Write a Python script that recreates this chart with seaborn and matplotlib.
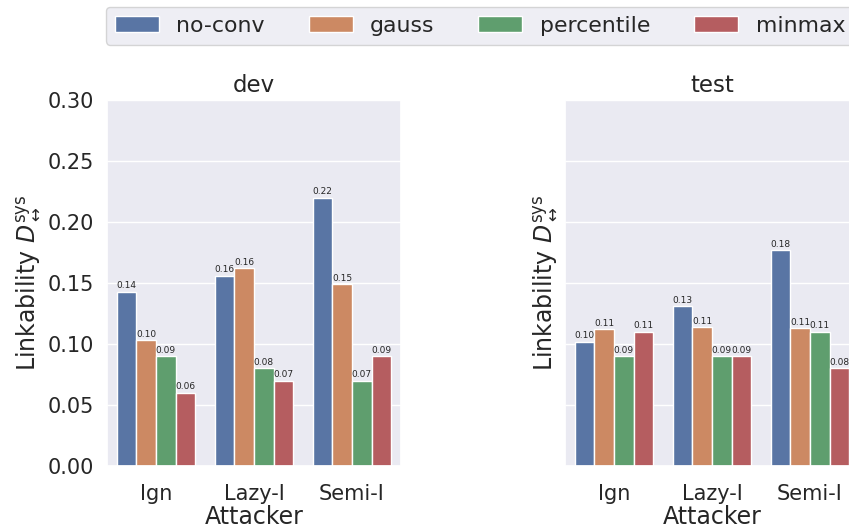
import matplotlib
matplotlib.use("Agg")
import matplotlib.pyplot as plt
import pandas as pd
import seaborn as sns

attackers = ["Ign", "Lazy-I", "Semi-I"]
methods = ["no-conv", "gauss", "percentile", "minmax"]

dev_no_conv = [0.143, 0.156, 0.220]
dev_gauss = [0.103, 0.162, 0.149]
dev_percentile = [0.090, 0.080, 0.070]
dev_minmax = [0.060, 0.070, 0.090]

test_no_conv = [0.102, 0.131, 0.177]
test_gauss = [0.112, 0.114, 0.113]
test_percentile = [0.090, 0.090, 0.110]
test_minmax = [0.110, 0.090, 0.080]

yticks = [0.00, 0.05, 0.10, 0.15, 0.20, 0.25, 0.30]


def to_long(series):
    rows = []
    for m, vals in zip(methods, series):
        for a, v in zip(attackers, vals):
            rows.append({"Attacker": a, "method": m, "value": v})
    return pd.DataFrame(rows)


df_dev = to_long([dev_no_conv, dev_gauss, dev_percentile, dev_minmax])
df_test = to_long([test_no_conv, test_gauss, test_percentile, test_minmax])

sns.set_theme(style="darkgrid", palette="deep")
plt.rcParams['font.family'] = ['DejaVu Sans']

fig = plt.figure(figsize=(8.49, 5.28), dpi=100)
ax_dev = fig.add_axes([107 / 849, 62 / 528, 294 / 849, 366 / 528])
ax_test = fig.add_axes([565 / 849, 62 / 528, 294 / 849, 366 / 528], sharey=ax_dev)

ylabel = r"Linkability $D_{\leftrightarrow}^{\mathrm{sys}}$"

for ax, df, title in [(ax_dev, df_dev, "dev"), (ax_test, df_test, "test")]:
    sns.barplot(data=df, x="Attacker", y="value", hue="method", hue_order=methods,
                order=attackers, ax=ax, errorbar=None)
    for c in ax.containers:
        ax.bar_label(c, fmt="%.2f", fontsize=6.5, padding=1)
    ax.set_title(title, fontsize=16.5)
    ax.set_xlabel("Attacker", fontsize=17, labelpad=1)
    ax.set_ylabel(ylabel, fontsize=17)
    ax.tick_params(axis="both", labelsize=15)
    ax.tick_params(axis="x", pad=7)
    ax.get_legend().remove()

ax_dev.set_ylim(0, 0.30)
ax_dev.set_yticks(yticks)
ax_dev.set_yticklabels([f"{t:.2f}" for t in yticks])
plt.setp(ax_test.get_yticklabels(), visible=False)

handles, labels = ax_dev.get_legend_handles_labels()
fig.legend(handles, labels, loc="upper left", bbox_to_anchor=(106 / 849, 1 - 7 / 528),
           ncol=4, fontsize=15.8, borderaxespad=0, frameon=True)

fig.savefig("out.png", dpi=100)
